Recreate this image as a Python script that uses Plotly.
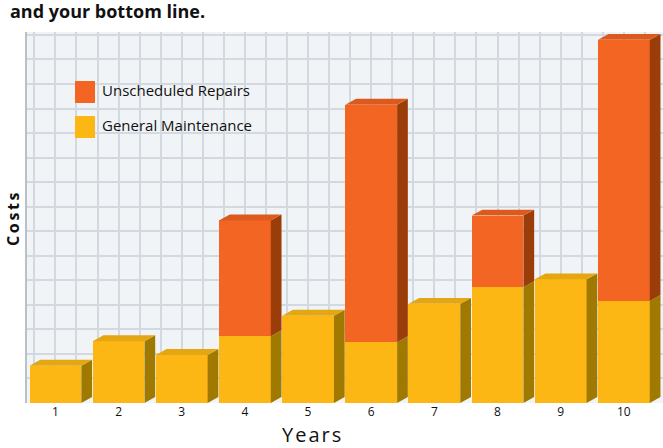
import plotly.graph_objects as go

# ---- data (apparent heights, arbitrary cost units) ----
years = ["1", "2", "3", "4", "5", "6", "7", "8", "9", "10"]
maintenance = [38, 63, 49, 68, 89, 62, 101, 118, 126, 104]
repairs = [0, 0, 0, 118, 0, 242, 0, 73, 0, 266]
series_names = ["Unscheduled Repairs", "General Maintenance"]

# ---- styling ----
W, H = 663, 448
ML, MR, MT, MB = 27, 0, 32, 45
PW, PH = W - ML - MR, H - MT - MB
YMAX = 378
BAR_W = 0.82
DEPTH_X = 0.17
DEPTH_Y = 6

YEL, YEL_SIDE, YEL_TOP = "#FDB714", "#A07A00", "#E4A611"
ORA, ORA_SIDE, ORA_TOP = "#F36523", "#9B3D09", "#DD5A1F"
FONT = "Open Sans"


def px(x):
    return (x - ML) / PW


def py(y):
    return (H - MB - y) / PH


xs = list(range(1, len(years) + 1))

fig = go.Figure()
fig.add_trace(go.Bar(x=xs, y=maintenance, name=series_names[1], width=BAR_W,
                     marker=dict(color=YEL, line=dict(width=0)), showlegend=False))
fig.add_trace(go.Bar(x=xs, y=repairs, name=series_names[0], width=BAR_W,
                     marker=dict(color=ORA, line=dict(width=0)), showlegend=False))

shapes = []
for x, m, r in zip(xs, maintenance, repairs):
    xr = x + BAR_W / 2
    xl = x - BAR_W / 2
    segs = [(0, m, YEL_SIDE)]
    if r > 0:
        segs.append((m, m + r, ORA_SIDE))
    for lo, hi, col in segs:
        shapes.append(dict(type="path", xref="x", yref="y", layer="above",
                           path=f"M {xr},{lo} L {xr + DEPTH_X},{lo + DEPTH_Y} "
                                f"L {xr + DEPTH_X},{hi + DEPTH_Y} L {xr},{hi} Z",
                           fillcolor=col, line=dict(width=0)))
    top = m + r
    topcol = ORA_TOP if r > 0 else YEL_TOP
    shapes.append(dict(type="path", xref="x", yref="y", layer="above",
                       path=f"M {xl},{top} L {xl + DEPTH_X},{top + DEPTH_Y} "
                            f"L {xr + DEPTH_X},{top + DEPTH_Y} L {xr},{top} Z",
                       fillcolor=topcol, line=dict(width=0)))

# legend swatches
shapes.append(dict(type="rect", xref="paper", yref="paper",
                   x0=px(75), x1=px(95), y0=py(103), y1=py(81),
                   fillcolor=ORA, line=dict(width=0)))
shapes.append(dict(type="rect", xref="paper", yref="paper",
                   x0=px(75), x1=px(95), y0=py(138), y1=py(116),
                   fillcolor=YEL, line=dict(width=0)))

annotations = [
    dict(text="<b>and your bottom line.</b>", xref="paper", yref="paper",
         x=px(8), y=py(11), xanchor="left", yanchor="middle", showarrow=False,
         font=dict(family=FONT, size=18, color="#111")),
    dict(text=series_names[0], xref="paper", yref="paper", x=px(100), y=py(90),
         xanchor="left", yanchor="middle", showarrow=False,
         font=dict(family=FONT, size=15, color="#111")),
    dict(text=series_names[1], xref="paper", yref="paper", x=px(100), y=py(125),
         xanchor="left", yanchor="middle", showarrow=False,
         font=dict(family=FONT, size=15, color="#111")),
    dict(text="<b>C\u2009o\u2009s\u2009t\u2009s</b>", xref="paper", yref="paper",
         x=px(13), y=py(219), xanchor="center", yanchor="middle", textangle=-90,
         showarrow=False, font=dict(family=FONT, size=16, color="#111")),
    dict(text="Y\u200ae\u200aa\u200ar\u200as", xref="paper", yref="paper",
         x=px(311), y=py(434), xanchor="center", yanchor="middle",
         showarrow=False, font=dict(family=FONT, size=20, color="#111")),
]

fig.update_layout(
    width=W, height=H,
    margin=dict(l=ML, r=MR, t=MT, b=MB, pad=0),
    barmode="stack", bargap=0,
    paper_bgcolor="white", plot_bgcolor="#F1F4F7",
    shapes=shapes, annotations=annotations,
    font=dict(family=FONT, color="#111"),
    showlegend=False,
    xaxis=dict(range=[0.55, 10.62], tickvals=xs, ticktext=years,
               showgrid=True, gridcolor="#D2D9E0", gridwidth=1.5,
               minor=dict(dtick=1 / 3, tick0=0, showgrid=True,
                          gridcolor="#D2D9E0", gridwidth=1.5),
               zeroline=False, showline=False, ticks="",
               tickfont=dict(family=FONT, size=12, color="#111")),
    yaxis=dict(range=[0, YMAX], dtick=25, showticklabels=False,
               showgrid=True, gridcolor="#D2D9E0", gridwidth=1.5,
               zeroline=False, showline=True, linecolor="#B8C0C8", linewidth=1.5,
               ticks=""),
)

fig.write_html("out.html", config={"displayModeBar": False},
               post_script="document.body.style.margin='0';document.body.style.padding='0';")
